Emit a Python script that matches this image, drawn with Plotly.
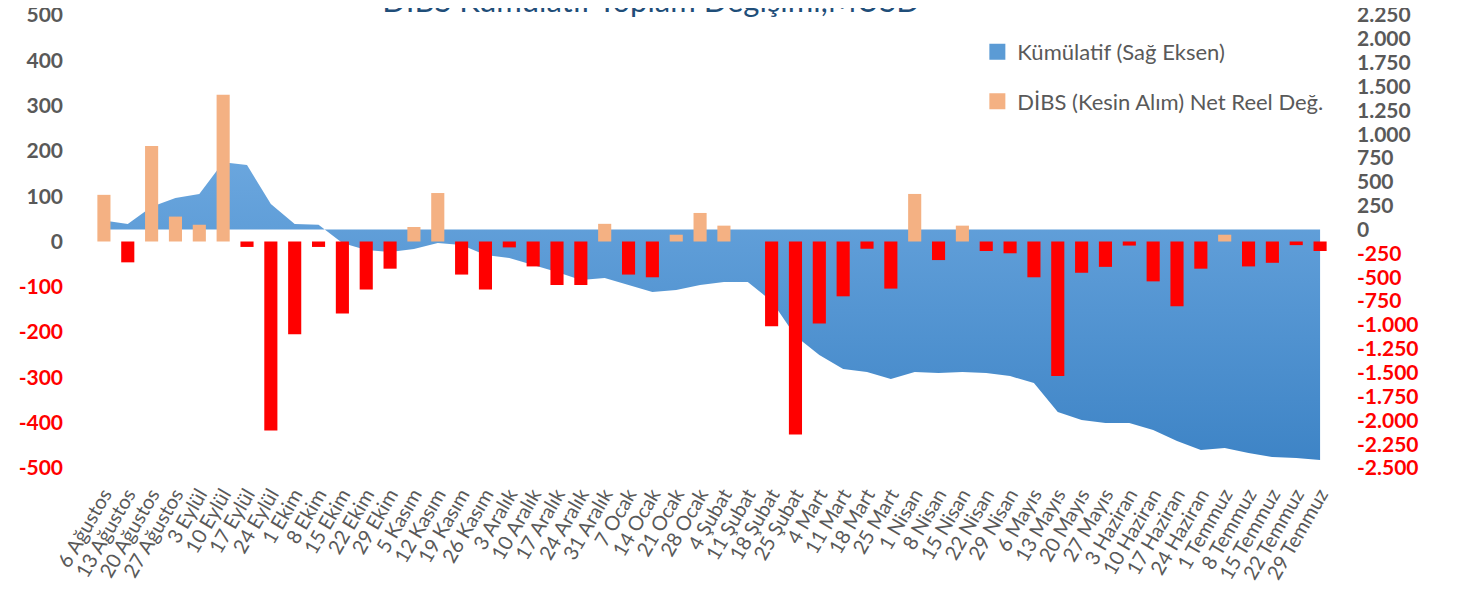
import plotly.graph_objects as go

categories = [
    "6 Ağustos", "13 Ağustos", "20 Ağustos", "27 Ağustos",
    "3 Eylül", "10 Eylül", "17 Eylül", "24 Eylül",
    "1 Ekim", "8 Ekim", "15 Ekim", "22 Ekim", "29 Ekim",
    "5 Kasım", "12 Kasım", "19 Kasım", "26 Kasım",
    "3 Aralık", "10 Aralık", "17 Aralık", "24 Aralık", "31 Aralık",
    "7 Ocak", "14 Ocak", "21 Ocak", "28 Ocak",
    "4 Şubat", "11 Şubat", "18 Şubat", "25 Şubat",
    "4 Mart", "11 Mart", "18 Mart", "25 Mart",
    "1 Nisan", "8 Nisan", "15 Nisan", "22 Nisan", "29 Nisan",
    "6 Mayıs", "13 Mayıs", "20 Mayıs", "27 Mayıs",
    "3 Haziran", "10 Haziran", "17 Haziran", "24 Haziran",
    "1 Temmuz", "8 Temmuz", "15 Temmuz", "22 Temmuz", "29 Temmuz",
]

# DİBS (Kesin Alım) Net Reel Değ. (left axis, MUSD)
dibs = [103, -46, 211, 55, 37, 324, -12, -417, -205, -12,
        -159, -106, -60, 32, 107, -73, -106, -13, -55, -96,
        -96, 39, -73, -79, 15, 63, 35, 0, -187, -426,
        -181, -121, -16, -104, 105, -41, 35, -21, -26, -79,
        -297, -69, -56, -9, -88, -143, -60, 15, -55, -47,
        -8, -21]

# Kümülatif (right axis, MUSD)
kumulatif = [95, 58, 240, 330, 372, 707, 676, 267, 58, 50,
             -140, -215, -236, -204, -141, -162, -267, -299, -372, -445,
             -529, -508, -582, -655, -634, -582, -550, -550, -750, -1116,
             -1315, -1462, -1494, -1567, -1494, -1504, -1494, -1504, -1536, -1609,
             -1913, -1997, -2028, -2028, -2102, -2217, -2311, -2290, -2343, -2385,
             -2395, -2416]

left_ticks = [-500, -400, -300, -200, -100, 0, 100, 200, 300, 400, 500]
right_ticks = [-2500, -2250, -2000, -1750, -1500, -1250, -1000, -750, -500, -250,
               0, 250, 500, 750, 1000, 1250, 1500, 1750, 2000, 2250]

TITLE = "DİBS Kümülatif Toplam Değişimi,MUSD"
NAME_KUM = "Kümülatif (Sağ Eksen)"
NAME_DIBS = "DİBS (Kesin Alım) Net Reel Değ."
GRAY = "#595959"
RED = "#FF0000"
ORANGE = "#F4B183"
BLUE = "#5B9BD5"

# page body has an 8px default margin -> figure sized to fit the window
FIG_W, FIG_H = 1450, 583


def fmt(v):
    s = f"{abs(v):,}".replace(",", ".")
    s = ("-" + s) if v < 0 else s
    if v < 0:
        return f'<span style="color:{RED}">{s}</span>'
    return s


bar_colors = [ORANGE if v >= 0 else RED for v in dibs]

fig = go.Figure()

fig.add_trace(go.Scatter(
    x=categories, y=kumulatif, name=NAME_KUM,
    mode="lines", line=dict(width=0, color=BLUE),
    fill="tozeroy",
    fillgradient=dict(type="vertical",
                      colorscale=[[0, "#3E84C6"], [1, "#6AA6DE"]]),
    yaxis="y", showlegend=False, hoverinfo="x+y",
))

fig.add_trace(go.Bar(
    x=categories, y=dibs, name=NAME_DIBS,
    marker=dict(color=bar_colors, line=dict(width=0)),
    width=0.55, yaxis="y2", showlegend=False,
))

# legend entries (square swatches like the original)
fig.add_trace(go.Scatter(
    x=[None], y=[None], name=NAME_KUM, mode="markers",
    marker=dict(symbol="square", size=16, color=BLUE), legendgroup="a",
))
fig.add_trace(go.Scatter(
    x=[None], y=[None], name=NAME_DIBS, mode="markers",
    marker=dict(symbol="square", size=16, color=ORANGE), legendgroup="b",
))

fig.update_layout(
    width=FIG_W, height=FIG_H,
    margin=dict(l=84, r=FIG_W - 1324, t=7, b=FIG_H - 460, autoexpand=False),
    paper_bgcolor="white", plot_bgcolor="white",
    font=dict(family="Lato", color=GRAY),
    title=dict(text=TITLE, font=dict(family="Lato", size=31, color="#1F4E79"),
               x=643 / FIG_W, xanchor="center", xref="container",
               y=1 - 4 / FIG_H, yanchor="bottom", yref="container",
               automargin=False),
    showlegend=True,
    legend=dict(x=0.714, y=0.965, xanchor="left", yanchor="top",
                font=dict(family="Lato", size=22, color=GRAY),
                bgcolor="rgba(0,0,0,0)", tracegroupgap=18,
                itemwidth=30),
    xaxis=dict(type="category", categoryorder="array", categoryarray=categories,
               range=[-0.5, len(categories) - 0.5], automargin=False,
               tickmode="linear", tick0=0, dtick=1,
               tickangle=-60, tickfont=dict(family="Lato", size=20, color=GRAY),
               ticklabeloverflow="allow", ticklabelstandoff=10,
               showgrid=False, showline=False, ticks="", zeroline=False),
    xaxis2=dict(type="linear", overlaying="x", anchor="free", position=0.5,
                range=[-0.5, len(categories) - 0.5], tick0=-0.5, dtick=1,
                ticks="outside", ticklen=5, tickwidth=2, tickcolor="#D9D9D9",
                showticklabels=False, showline=True, linecolor="#D9D9D9",
                linewidth=2, showgrid=False, zeroline=False, automargin=False),
    yaxis=dict(side="right", range=[-2500, 2250], automargin=False,
               tickvals=right_ticks, ticktext=[fmt(v) for v in right_ticks],
               tickfont=dict(family="Lato", size=21, color=GRAY, weight="bold"),
               ticklabeloverflow="allow",
               showgrid=False, zeroline=False, showline=False,
               ticklabelstandoff=24),
    yaxis2=dict(side="left", overlaying="y", range=[-500, 500], automargin=False,
                tickvals=left_ticks, ticktext=[fmt(v) for v in left_ticks],
                tickfont=dict(family="Lato", size=21, color=GRAY, weight="bold"),
                ticklabeloverflow="allow",
                showgrid=False, zeroline=False, showline=False,
                ticklabelstandoff=28),
)

fig.write_html("out.html")
